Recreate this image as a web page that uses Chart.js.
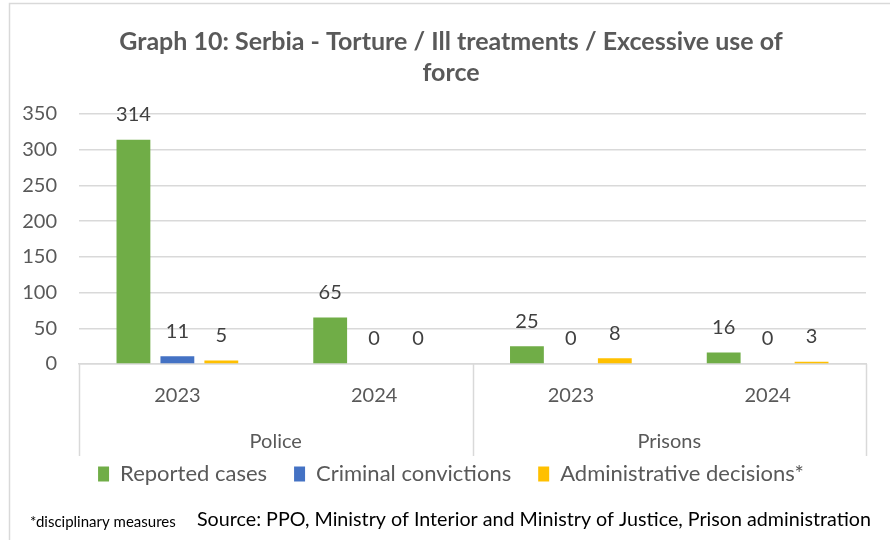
<!DOCTYPE html>
<html>
<head>
<meta charset="utf-8">
<script src="https://cdn.jsdelivr.net/npm/chart.js@4.4.1/dist/chart.umd.min.js"></script>
<style>
  html, body { margin: 0; padding: 0; background: #fff; }
  #wrap { width: 890px; height: 540px; position: relative; }
</style>
</head>
<body>
<div id="wrap"><canvas id="chart" width="890" height="540"></canvas></div>
<script>
// Data
const categories = ['2023', '2024', '2023', '2024'];
const groups = ['Police', 'Prisons'];
const seriesNames = ['Reported cases', 'Criminal convictions', 'Administrative decisions*'];
const reportedCases = [314, 65, 25, 16];
const criminalConvictions = [11, 0, 0, 0];
const administrativeDecisions = [5, 0, 8, 3];
const yMax = 350;
const yStep = 50;

const FONT = 'Lato';
const GREY = '#595959';
const LINE = '#d9d9d9';
const BOX_DEPTH = 92; // height of the two-level category box under the axis

// light frame round the chart, like the Excel chart border
const framePlugin = {
    id: 'frame',
    beforeDraw(chart) {
        const ctx = chart.ctx;
        ctx.save();
        ctx.strokeStyle = LINE;
        ctx.lineWidth = 1.5;
        ctx.strokeRect(9.5, 3.5, chart.width + 20, chart.height + 20);
        ctx.restore();
    }
};

// title and legend are centred on the frame, not on the canvas
const centreOnFrame = {
    id: 'centreOnFrame',
    afterLayout(chart) {
        chart.titleBlock.left = 36;
        chart.legend.left = 36;
    }
};

// value labels above the bars
const valueLabels = {
    id: 'valueLabels',
    afterDatasetsDraw(chart) {
        const ctx = chart.ctx;
        ctx.save();
        ctx.font = '20px ' + FONT;
        ctx.fillStyle = '#404040';
        ctx.textAlign = 'center';
        ctx.textBaseline = 'middle';
        chart.data.datasets.forEach((ds, i) => {
            chart.getDatasetMeta(i).data.forEach((bar, j) => {
                ctx.fillText(ds.data[j], bar.x, bar.y - 25);
            });
        });
        ctx.restore();
    }
};

// second level of the category axis: group boxes and names
const groupAxis = {
    id: 'groupAxis',
    afterDraw(chart) {
        const ctx = chart.ctx;
        const x = chart.scales.x;
        const top = chart.chartArea.bottom;
        const bottom = top + BOX_DEPTH;
        const per = categories.length / groups.length;
        const step = (x.right - x.left) / categories.length;
        ctx.save();
        ctx.strokeStyle = LINE;
        ctx.lineWidth = 1.5;
        for (let g = 0; g <= groups.length; g++) {
            const gx = Math.round(x.left + g * per * step) + 0.5;
            ctx.beginPath();
            ctx.moveTo(gx, top);
            ctx.lineTo(gx, bottom);
            ctx.stroke();
        }
        ctx.font = '20px ' + FONT;
        ctx.fillStyle = GREY;
        ctx.textAlign = 'center';
        ctx.textBaseline = 'middle';
        groups.forEach((name, g) => {
            ctx.fillText(name, x.left + (g + 0.5) * per * step, top + 78);
        });
        ctx.restore();
    }
};

// footnote and source line
const footnote = {
    id: 'footnote',
    afterDraw(chart) {
        const ctx = chart.ctx;
        ctx.save();
        ctx.fillStyle = '#000';
        ctx.textBaseline = 'middle';
        ctx.textAlign = 'left';
        ctx.font = '15px ' + FONT;
        ctx.fillText('*disciplinary measures', 30, 522);
        ctx.font = '19.7px ' + FONT;
        ctx.fillText('Source: PPO, Ministry of Interior and Ministry of Justice, Prison administration', 197, 520);
        ctx.restore();
    }
};

new Chart(document.getElementById('chart'), {
    type: 'bar',
    data: {
        labels: categories,
        datasets: [
            { label: seriesNames[0], data: reportedCases, backgroundColor: '#70AD47' },
            { label: seriesNames[1], data: criminalConvictions, backgroundColor: '#4472C4' },
            { label: seriesNames[2], data: administrativeDecisions, backgroundColor: '#FFC000' }
        ]
    },
    options: {
        responsive: false,
        animation: false,
        categoryPercentage: 0.67,
        barPercentage: 0.77,
        layout: { padding: { left: 0, right: 24, top: 0, bottom: 45 } },
        scales: {
            x: {
                grid: { display: false },
                border: { display: true, color: LINE, width: 1.5 },
                ticks: { color: GREY, font: { family: FONT, size: 20 }, padding: 12 },
                afterFit(scale) { scale.height = 72; }
            },
            y: {
                min: 0,
                max: yMax,
                grid: { color: LINE, lineWidth: 1.5, drawTicks: false },
                border: { display: false },
                ticks: { stepSize: yStep, color: GREY, font: { family: FONT, size: 20 }, padding: 22 },
                afterFit(scale) { scale.width = 79; }
            }
        },
        plugins: {
            title: {
                display: true,
                text: ['Graph 10: Serbia - Torture / Ill treatments / Excessive use of', 'force'],
                color: GREY,
                font: { family: FONT, size: 25, weight: 'bold', lineHeight: 1.24 },
                padding: { top: 26, bottom: 26 }
            },
            legend: {
                position: 'bottom',
                labels: {
                    color: GREY,
                    font: { family: FONT, size: 22 },
                    boxWidth: 11,
                    boxHeight: 15,
                    padding: 27
                }
            },
            tooltip: { enabled: false }
        }
    },
    plugins: [framePlugin, centreOnFrame, valueLabels, groupAxis, footnote]
});
</script>
</body>
</html>
